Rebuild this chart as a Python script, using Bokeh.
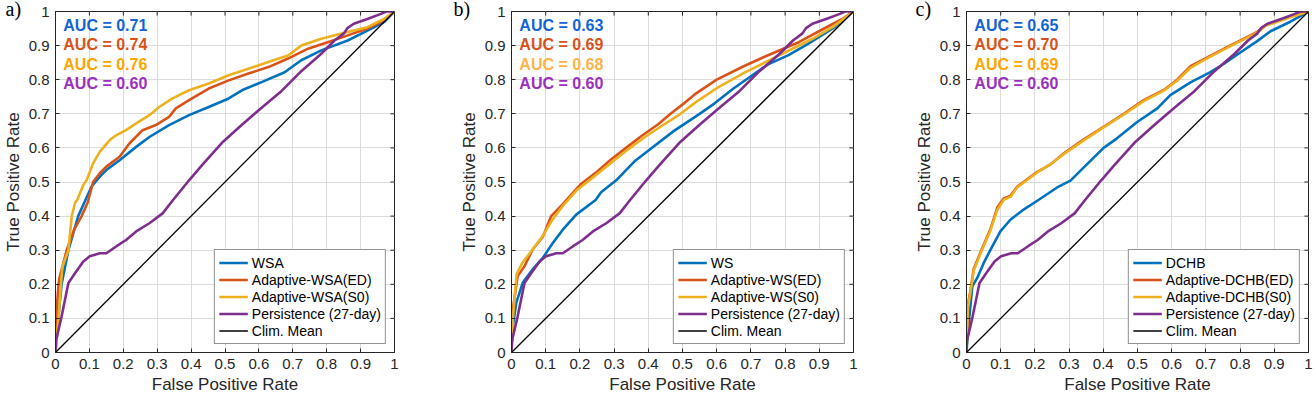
from bokeh.plotting import figure
from bokeh.models import Range1d, FixedTicker, Legend, LegendItem, Title, ColumnDataSource
from bokeh.layouts import row
from bokeh.embed import file_html
from bokeh.resources import INLINE
from bokeh.core.properties import value

# ---------------- data ----------------
TICKS = [0.0, 0.1, 0.2, 0.3, 0.4, 0.5, 0.6, 0.7, 0.8, 0.9, 1.0]
TICK_LABELS = ["0", "0.1", "0.2", "0.3", "0.4", "0.5", "0.6", "0.7", "0.8", "0.9", "1"]

CLIM_FPR = [0.0, 1.0]
CLIM_TPR = [0.0, 1.0]

PERSIST_FPR = [0, 0.001, 0.009, 0.018, 0.028, 0.038, 0.058, 0.082, 0.101, 0.131, 0.15, 0.179, 0.208, 0.238,
               0.277, 0.316, 0.345, 0.394, 0.433, 0.491, 0.55, 0.608, 0.667, 0.725, 0.784, 0.823, 0.85, 0.862,
               0.88, 0.92, 0.96, 0.975, 1.0]
PERSIST_TPR = [0, 0.033, 0.067, 0.106, 0.155, 0.204, 0.233, 0.267, 0.282, 0.291, 0.291, 0.311, 0.33, 0.355,
               0.379, 0.408, 0.445, 0.505, 0.55, 0.615, 0.668, 0.718, 0.767, 0.825, 0.876, 0.915, 0.935, 0.952,
               0.964, 0.978, 0.993, 1.0, 1.0]

# panel a
WSA_FPR = [0, 0.004, 0.008, 0.018, 0.038, 0.067, 0.085, 0.106, 0.13, 0.15, 0.189, 0.238, 0.277, 0.335, 0.394,
           0.452, 0.511, 0.55, 0.608, 0.676, 0.725, 0.784, 0.862, 0.92, 0.97, 1.0]
WSA_TPR = [0, 0.05, 0.1, 0.2, 0.3, 0.4, 0.44, 0.486, 0.515, 0.535, 0.564, 0.603, 0.632, 0.667, 0.696,
           0.72, 0.745, 0.769, 0.793, 0.822, 0.857, 0.886, 0.915, 0.944, 0.97, 1.0]
AWSA_ED_FPR = [0, 0.003, 0.009, 0.012, 0.033, 0.055, 0.077, 0.095, 0.111, 0.13, 0.15, 0.189, 0.218, 0.257,
               0.296, 0.335, 0.355, 0.394, 0.452, 0.511, 0.569, 0.628, 0.686, 0.745, 0.803, 0.862, 0.92, 0.969, 1.0]
AWSA_ED_TPR = [0, 0.12, 0.2, 0.22, 0.3, 0.36, 0.4, 0.44, 0.5, 0.525, 0.545, 0.574, 0.613, 0.652,
               0.667, 0.691, 0.716, 0.74, 0.774, 0.798, 0.818, 0.837, 0.862, 0.891, 0.91, 0.93, 0.95, 0.974, 1.0]
AWSA_S0_FPR = [0, 0.009, 0.016, 0.02, 0.038, 0.048, 0.058, 0.064, 0.082, 0.092, 0.111, 0.131, 0.16, 0.179,
               0.208, 0.238, 0.277, 0.306, 0.345, 0.394, 0.452, 0.511, 0.569, 0.628, 0.686, 0.725, 0.784,
               0.862, 0.92, 0.969, 1.0]
AWSA_S0_TPR = [0, 0.1, 0.2, 0.25, 0.3, 0.4, 0.44, 0.447, 0.491, 0.506, 0.555, 0.589, 0.623, 0.637,
               0.652, 0.672, 0.696, 0.72, 0.745, 0.769, 0.789, 0.813, 0.832, 0.852, 0.871, 0.9, 0.92,
               0.94, 0.954, 0.978, 1.0]

# panel b
WS_FPR = [0, 0.004, 0.014, 0.033, 0.062, 0.092, 0.12, 0.15, 0.19, 0.246, 0.262, 0.306, 0.359, 0.41, 0.475,
          0.55, 0.593, 0.65, 0.7, 0.75, 0.81, 0.867, 0.945, 1.0]
WS_TPR = [0, 0.078, 0.146, 0.205, 0.244, 0.278, 0.32, 0.36, 0.405, 0.447, 0.47, 0.505, 0.56, 0.6, 0.65,
          0.7, 0.73, 0.775, 0.81, 0.845, 0.872, 0.905, 0.954, 1.0]
AWS_ED_FPR = [0, 0.004, 0.018, 0.038, 0.062, 0.092, 0.116, 0.15, 0.19, 0.204, 0.25, 0.29, 0.335, 0.38, 0.43,
              0.465, 0.51, 0.54, 0.6, 0.676, 0.735, 0.793, 0.84, 0.91, 0.97, 1.0]
AWS_ED_TPR = [0, 0.127, 0.224, 0.253, 0.302, 0.34, 0.4, 0.435, 0.48, 0.495, 0.53, 0.565, 0.6, 0.635, 0.67,
              0.7, 0.735, 0.76, 0.8, 0.838, 0.865, 0.89, 0.91, 0.948, 0.98, 1.0]
AWS_S0_FPR = [0, 0.004, 0.015, 0.03, 0.06, 0.09, 0.12, 0.15, 0.19, 0.24, 0.29, 0.34, 0.39, 0.44, 0.49,
              0.54, 0.6, 0.68, 0.75, 0.82, 0.88, 0.94, 1.0]
AWS_S0_TPR = [0, 0.1, 0.23, 0.26, 0.3, 0.34, 0.39, 0.43, 0.475, 0.515, 0.555, 0.595, 0.632, 0.665, 0.697,
              0.735, 0.775, 0.82, 0.855, 0.89, 0.92, 0.955, 1.0]

# panel c
DCHB_FPR = [0, 0.003, 0.017, 0.031, 0.05, 0.07, 0.099, 0.129, 0.168, 0.207, 0.265, 0.304, 0.343, 0.401, 0.44,
            0.499, 0.558, 0.596, 0.655, 0.713, 0.752, 0.792, 0.85, 0.889, 0.947, 1.0]
DCHB_TPR = [0, 0.05, 0.194, 0.218, 0.262, 0.301, 0.355, 0.39, 0.42, 0.445, 0.484, 0.504, 0.543, 0.6, 0.628,
            0.676, 0.716, 0.755, 0.792, 0.822, 0.846, 0.874, 0.913, 0.942, 0.97, 1.0]
ADCHB_ED_FPR = [0, 0.004, 0.012, 0.021, 0.041, 0.07, 0.09, 0.109, 0.129, 0.148, 0.207, 0.246, 0.285, 0.343,
                0.401, 0.46, 0.518, 0.577, 0.616, 0.655, 0.69, 0.752, 0.811, 0.85, 0.875, 0.947, 1.0]
ADCHB_ED_TPR = [0, 0.14, 0.184, 0.245, 0.294, 0.362, 0.425, 0.452, 0.46, 0.486, 0.53, 0.552, 0.584, 0.625,
                0.662, 0.7, 0.74, 0.77, 0.8, 0.84, 0.858, 0.89, 0.92, 0.94, 0.96, 0.985, 1.0]
ADCHB_S0_FPR = [0, 0.004, 0.012, 0.021, 0.041, 0.07, 0.09, 0.109, 0.129, 0.148, 0.207, 0.246, 0.285, 0.343,
                0.401, 0.46, 0.518, 0.577, 0.616, 0.655, 0.69, 0.752, 0.811, 0.85, 0.875, 0.947, 1.0]
ADCHB_S0_TPR = [0, 0.13, 0.18, 0.24, 0.29, 0.358, 0.418, 0.448, 0.457, 0.484, 0.528, 0.553, 0.582, 0.622,
                0.66, 0.698, 0.737, 0.768, 0.797, 0.835, 0.855, 0.888, 0.918, 0.938, 0.958, 0.983, 1.0]

AUC_A = [0.71, 0.74, 0.76, 0.60]
AUC_B = [0.63, 0.69, 0.68, 0.60]
AUC_C = [0.65, 0.70, 0.69, 0.60]

NAMES_A = ["WSA", "Adaptive-WSA(ED)", "Adaptive-WSA(S0)", "Persistence (27-day)", "Clim. Mean"]
NAMES_B = ["WS", "Adaptive-WS(ED)", "Adaptive-WS(S0)", "Persistence (27-day)", "Clim. Mean"]
NAMES_C = ["DCHB", "Adaptive-DCHB(ED)", "Adaptive-DCHB(S0)", "Persistence (27-day)", "Clim. Mean"]

# ---------------- style ----------------
LINE_COLORS = ["#0072BD", "#D95319", "#EDB120", "#7E2F8E", "#000000"]
AUC_COLORS_A = ["#1264D6", "#D95319", "#FFA500", "#9B2FBF"]
AUC_COLORS_B = ["#1264D6", "#D95319", "#FFB347", "#9B2FBF"]
AUC_COLORS_C = ["#1264D6", "#D95319", "#FFA500", "#9B2FBF"]
AXC = "#262626"
FONT = "Liberation Sans"
FIG_H = 396
TICK_LEN = 0.012


def style_axis(ax):
    ax.ticker = FixedTicker(ticks=TICKS)
    ax.major_label_overrides = {t: l for t, l in zip(TICKS, TICK_LABELS)}
    ax.major_tick_in = 4
    ax.major_tick_out = 0
    ax.minor_tick_line_color = None
    ax.axis_line_color = AXC
    ax.major_tick_line_color = AXC
    ax.major_label_text_font = FONT
    ax.major_label_text_color = AXC
    ax.major_label_text_font_size = "15px"
    ax.major_label_standoff = 6
    ax.axis_label_text_font = FONT
    ax.axis_label_text_font_size = "17px"
    ax.axis_label_text_font_style = "normal"
    ax.axis_label_text_color = AXC
    ax.axis_label_standoff = 3


def make_panel(series, names, aucs, auc_colors, letter, width, left, right, letter_offset):
    p = figure(width=width, height=FIG_H, x_range=Range1d(0, 1), y_range=Range1d(0, 1),
               output_backend="svg", toolbar_location=None,
               min_border_left=left, min_border_right=right, min_border_top=11, min_border_bottom=0,
               x_axis_label="False Positive Rate", y_axis_label="True Positive Rate")
    p.outline_line_color = AXC
    p.background_fill_color = "white"
    p.border_fill_color = "white"
    style_axis(p.xaxis[0])
    style_axis(p.yaxis[0])
    p.grid.grid_line_color = "#dcdcdc"
    p.grid.grid_line_width = 1

    renderers = []
    for i, (fx, ty) in enumerate(series):
        lw = 1.3 if i == 4 else 2.6
        r = p.line(fx, ty, line_color=LINE_COLORS[i], line_width=lw, line_join="round")
        renderers.append(r)

    # inward ticks on the top and right box edges
    p.segment(x0=TICKS, y0=[1.0] * len(TICKS), x1=TICKS, y1=[1.0 - TICK_LEN] * len(TICKS),
              line_color=AXC, line_width=1)
    p.segment(x0=[1.0] * len(TICKS), y0=TICKS, x1=[1.0 - TICK_LEN] * len(TICKS), y1=TICKS,
              line_color=AXC, line_width=1)

    items = [LegendItem(label=n, renderers=[r]) for n, r in zip(names, renderers)]
    leg = Legend(items=items, location="bottom_right")
    leg.label_text_font = FONT
    leg.label_text_font_size = "14px"
    leg.label_text_color = "#000000"
    leg.glyph_width = 29
    leg.glyph_height = 17
    leg.label_height = 17
    leg.label_standoff = 4
    leg.spacing = 0
    leg.padding = 4
    leg.margin = 8
    leg.border_line_color = AXC
    leg.border_line_width = 1
    leg.background_fill_alpha = 1.0
    p.add_layout(leg)

    src = ColumnDataSource(dict(
        x=[0.023] * len(aucs),
        y=[0.96 - 0.057 * i for i in range(len(aucs))],
        t=["AUC = %.2f" % a for a in aucs],
        c=auc_colors,
    ))
    p.text(x="x", y="y", text="t", text_color="c", source=src, text_font=value(FONT),
           text_font_style="bold", text_font_size="16px", text_baseline="middle", text_align="left")

    # panel letter as a title in the top border, shifted left over the y-axis area
    t = Title(text=letter, align="left", vertical_align="top", offset=letter_offset,
              text_font="Liberation Serif", text_font_size="20px", text_font_style="normal",
              text_color="#000000")
    try:
        t.standoff = -20
    except Exception:
        t.standoff = 0
    p.add_layout(t, "above")
    return p


pa = make_panel([(WSA_FPR, WSA_TPR), (AWSA_ED_FPR, AWSA_ED_TPR), (AWSA_S0_FPR, AWSA_S0_TPR),
                 (PERSIST_FPR, PERSIST_TPR), (CLIM_FPR, CLIM_TPR)],
                NAMES_A, AUC_A, AUC_COLORS_A, "a)", width=52 + 342 + 10, left=52, right=10,
                letter_offset=-50)
pb = make_panel([(WS_FPR, WS_TPR), (AWS_ED_FPR, AWS_ED_TPR), (AWS_S0_FPR, AWS_S0_TPR),
                 (PERSIST_FPR, PERSIST_TPR), (CLIM_FPR, CLIM_TPR)],
                NAMES_B, AUC_B, AUC_COLORS_B, "b)", width=107 + 342 + 10, left=107, right=10,
                letter_offset=-58)
pc = make_panel([(DCHB_FPR, DCHB_TPR), (ADCHB_ED_FPR, ADCHB_ED_TPR), (ADCHB_S0_FPR, ADCHB_S0_TPR),
                 (PERSIST_FPR, PERSIST_TPR), (CLIM_FPR, CLIM_TPR)],
                NAMES_C, AUC_C, AUC_COLORS_C, "c)", width=103 + 342 + 7, left=103, right=7,
                letter_offset=-51)

layout = row(pa, pb, pc, spacing=0)
open("out.html", "w").write(file_html(layout, INLINE))
